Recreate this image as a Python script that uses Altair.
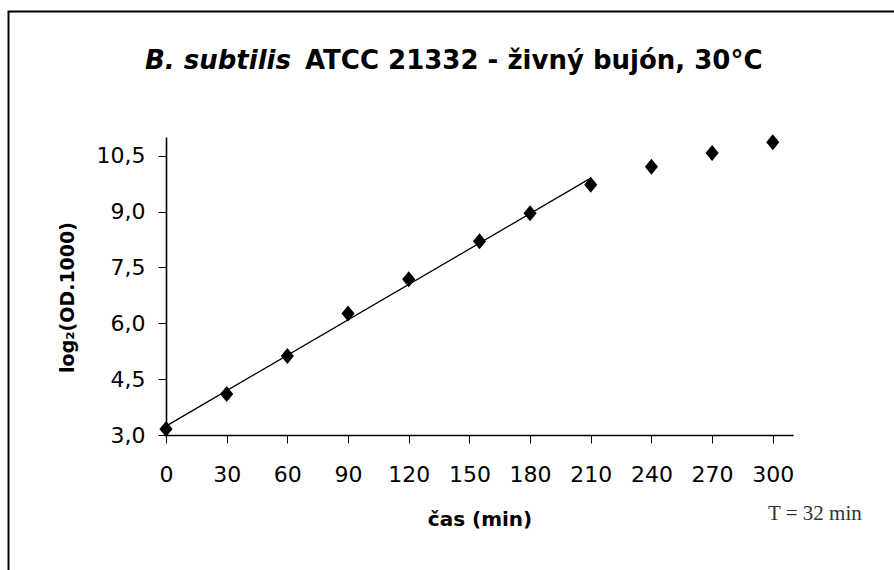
import altair as alt
import pandas as pd

# Growth curve measurements
time_min = [0, 30, 60, 90, 120, 155, 180, 210, 240, 270, 300]
log2_od = [3.16, 4.10, 5.12, 6.26, 7.18, 8.20, 8.95, 9.72, 10.20, 10.57, 10.86]

# Axis ticks
x_ticks = [0, 30, 60, 90, 120, 150, 180, 210, 240, 270, 300]
y_ticks = [3.0, 4.5, 6.0, 7.5, 9.0, 10.5]

# Exponential phase used for the linear fit (minutes)
fit_last_min = 210

# Texts
title_italic = "B. subtilis"
title_rest = "ATCC 21332 - živný bujón, 30°C"
x_title = "čas (min)"
y_title = "log₂(OD.1000)"
doubling_label = "T = 32 min"

# Plot area size and its offset inside the 894x570 canvas
W, H = 627, 298
PAD_L, PAD_T = 166, 137
CANVAS_W, CANVAS_H = 894, 570

SANS = "DejaVu Sans"
DIAMOND = "M0,-1L0.82,0L0,1L-0.82,0Z"

df = pd.DataFrame({"t": time_min, "v": log2_od})

x_scale = alt.Scale(domain=[0, 310], nice=False, zero=False)
y_scale = alt.Scale(domain=[3, 11], nice=False, zero=False)

x_axis = alt.Axis(
    values=x_ticks, title=x_title, grid=False, labelFlush=False,
    tickSize=8, tickWidth=1, labelPadding=21, labelFontSize=22,
    labelFontWeight="normal", domainWidth=1.6,
    titleFontSize=20, titleFontWeight="bold", titleY=90,
    titleBaseline="alphabetic",
)
y_axis = alt.Axis(
    values=y_ticks, title=y_title, grid=False, labelFlush=False,
    labelExpr="replace(format(datum.value, '.1f'), '.', ',')",
    tickSize=8, tickWidth=1, labelPadding=13, labelFontSize=22,
    domainWidth=1.6,
    titleFontSize=19, titleFontWeight="bold",
    titleX=-99, titleY=160, titleBaseline="middle", titleAlign="center",
)

base = alt.Chart(df)

fit = base.transform_filter(
    alt.datum.t <= fit_last_min
).transform_regression(
    "t", "v", extent=[0, fit_last_min]
).mark_line(color="black", strokeWidth=1.3).encode(
    x=alt.X("t:Q", scale=x_scale, axis=x_axis),
    y=alt.Y("v:Q", scale=y_scale, axis=y_axis),
)

points = base.mark_point(
    shape=DIAMOND, size=256, filled=True, color="black", opacity=1
).encode(
    x=alt.X("t:Q", scale=x_scale, axis=x_axis),
    y=alt.Y("v:Q", scale=y_scale, axis=y_axis),
)

# Outer frame around the whole figure
frame = alt.Chart(alt.Data(values=[{"k": 1}])).mark_rect(
    fillOpacity=0, stroke="black", strokeWidth=2
).encode(
    x=alt.value(8.5 - PAD_L), x2=alt.value(CANVAS_W + 10 - PAD_L),
    y=alt.value(11.5 - PAD_T), y2=alt.value(CANVAS_H + 10 - PAD_T),
)

# Title in two parts: italic species name and the rest
title_a = alt.Chart(alt.Data(values=[{"s": title_italic}])).mark_text(
    font=SANS, fontSize=26, fontWeight="bold", fontStyle="italic",
    align="right", baseline="alphabetic", color="black",
).encode(x=alt.value(291 - PAD_L), y=alt.value(69 - PAD_T), text="s:N")

title_b = alt.Chart(alt.Data(values=[{"s": title_rest}])).mark_text(
    font=SANS, fontSize=26, fontWeight="bold",
    align="left", baseline="alphabetic", color="black",
).encode(x=alt.value(305 - PAD_L), y=alt.value(69 - PAD_T), text="s:N")

# Doubling time note
note = alt.Chart(alt.Data(values=[{"s": doubling_label}])).mark_text(
    font="Liberation Serif", fontSize=21, align="left",
    baseline="alphabetic", color="#333333",
).encode(x=alt.value(768 - PAD_L), y=alt.value(520 - PAD_T), text="s:N")

chart = alt.layer(fit, points, frame, title_a, title_b, note).properties(
    width=W, height=H,
    padding={"left": PAD_L, "top": PAD_T,
             "right": CANVAS_W - PAD_L - W, "bottom": CANVAS_H - PAD_T - H},
    autosize=alt.AutoSizeParams(type="none"),
    background="white",
).configure_view(strokeWidth=0).configure_axis(
    domainColor="black", tickColor="black", labelColor="black",
    titleColor="black", labelFont=SANS, titleFont=SANS,
)

chart.save("out.html", embed_options={"renderer": "svg", "actions": False})
